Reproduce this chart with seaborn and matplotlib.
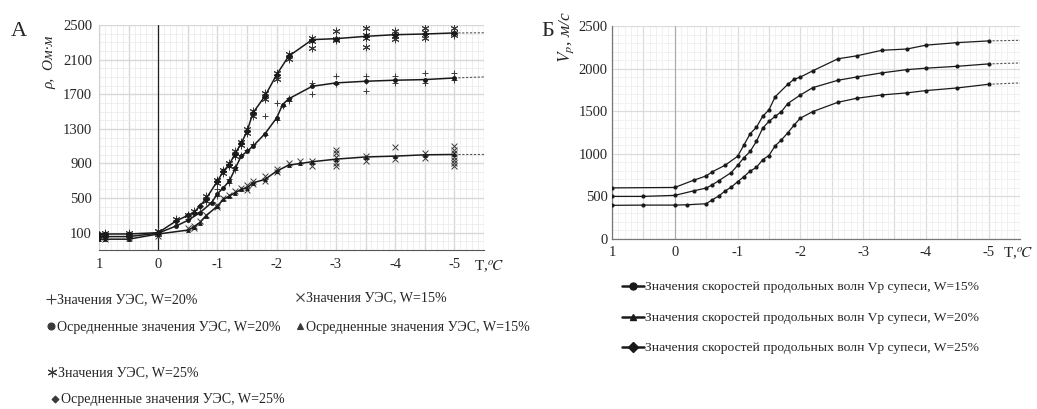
#%%библиотеки
import pandas as pd
import seaborn as sb
import matplotlib.pyplot as plt
from matplotlib.lines import Line2D
from matplotlib.ticker import MultipleLocator, FixedLocator, FuncFormatter

#%%данные: А - осредненные УЭС
t25=[1,0.9,0.5,0,-0.3,-0.5,-0.6,-0.7,-0.8,-1,-1.1,-1.2,-1.3,-1.4,-1.5,-1.6,-1.8,-2,-2.2,-2.6,-3,-3.5,-4,-4.5,-5]
r25=[85,85,85,100,235,300,330,408,485,696,812,888,1015,1131,1273,1485,1677,1927,2138,2331,2342,2369,2388,2396,2408]
t20=[1,0.9,0.5,0,-0.3,-0.5,-0.7,-0.9,-1,-1.1,-1.2,-1.3,-1.4,-1.5,-1.6,-1.8,-2,-2.1,-2.2,-2.6,-3,-3.5,-4,-4.5,-5]
r20=[55,55,55,95,177,242,330,446,550,620,696,842,985,1040,1100,1242,1427,1581,1646,1792,1831,1850,1862,1869,1888]
t15=[1,0.9,0.5,0,-0.5,-0.6,-0.7,-0.8,-1,-1.1,-1.2,-1.3,-1.4,-1.5,-1.6,-1.8,-2,-2.2,-2.4,-2.6,-3,-3.5,-4,-4.5,-5]
r15=[25,25,25,85,130,165,215,292,408,485,523,562,600,619,677,715,812,880,900,920,950,975,985,1000,1004]
t_tail=[-5,-5.5]
r25_tail=[2408,2410]
r20_tail=[1888,1900]
r15_tail=[1004,1004]

#%%данные: А - отдельные замеры УЭС
raw25_t=[0.9,0.9,0.5,0.5,0,0,-0.3,-0.5,-0.6,-0.8,-0.8,-1,-1,-1.1,-1.1,-1.2,-1.2,-1.3,-1.3,-1.4,-1.4,
         -1.5,-1.5,-1.6,-1.6,-1.8,-1.8,-2,-2,-2.2,-2.2,-2.6,-2.6,-2.6,-3,-3,-3,-3.5,-3.5,-3.5,-3.5,
         -4,-4,-4,-4.5,-4.5,-4.5,-5,-5,-5]
raw25_r=[95,75,100,70,115,80,255,310,345,520,470,710,680,830,790,910,870,1040,990,1150,1110,
         1300,1250,1510,1450,1720,1650,1950,1880,2170,2110,2350,2320,2235,2435,2340,2330,2465,2390,2350,2250,
         2425,2370,2340,2465,2420,2355,2465,2410,2390]
raw20_t=[0.9,0.5,0,0,-0.5,-0.7,-0.9,-1,-1,-1.2,-1.2,-1.3,-1.3,-1.4,-1.5,-1.6,-1.8,-1.8,-2,-2,-2.1,
         -2.2,-2.2,-2.6,-2.6,-3,-3,-3.5,-3.5,-3.5,-4,-4,-4.5,-4.5,-5,-5]
raw20_r=[70,80,110,90,260,340,460,600,520,720,680,860,820,1000,1050,1120,1446,1230,1600,1400,1560,
         1660,1620,1830,1707,1907,1820,1915,1850,1742,1915,1830,1946,1830,1946,1870]
raw15_t=[0.9,0.9,0.5,0.5,0,0,-0.5,-0.6,-0.6,-0.7,-0.8,-1,-1,-1.1,-1.2,-1.3,-1.4,-1.5,-1.5,-1.6,-1.6,
         -1.8,-1.8,-2,-2,-2.2,-2.4,-2.6,-2.6,-3,-3,-3,-3,-3,-3.5,-3.5,-4,-4,-4.5,-4.5,
         -5,-5,-5,-5,-5,-5,-5]
raw15_r=[50,30,60,40,110,60,150,180,160,230,300,420,400,500,540,580,620,650,590,700,660,
         760,700,840,800,910,930,926,869,1061,1020,980,900,870,984,926,1088,946,1025,965,
         1100,1060,1020,980,940,900,870]

#%%данные: Б - скорости продольных волн
tv25=[1,0,-0.3,-0.5,-0.6,-0.8,-1,-1.1,-1.2,-1.3,-1.4,-1.5,-1.6,-1.8,-1.9,-2,-2.2,-2.6,-2.9,-3.3,-3.7,-4,-4.5,-5]
v25=[600,605,690,740,790,865,970,1100,1235,1310,1440,1515,1670,1815,1875,1900,1975,2115,2150,2215,2230,2275,2305,2325]
tv20=[1,0.5,0,-0.3,-0.5,-0.6,-0.7,-0.9,-1,-1.1,-1.2,-1.3,-1.4,-1.5,-1.6,-1.7,-1.8,-2,-2.2,-2.6,-2.9,-3.3,-3.7,-4,-4.5,-5]
v20=[500,500,512,565,598,637,684,780,863,953,1027,1145,1300,1380,1440,1495,1590,1690,1777,1863,1902,1950,1988,2005,2027,2055]
tv15=[1,0.5,0,-0.2,-0.5,-0.6,-0.7,-0.8,-0.9,-1,-1.1,-1.2,-1.3,-1.4,-1.5,-1.6,-1.7,-1.8,-1.9,-2,-2.2,-2.6,-2.9,-3.3,-3.7,-4,-4.5,-5]
v15=[395,398,398,402,414,461,504,562,609,672,730,797,840,930,980,1094,1164,1246,1336,1418,1496,1605,1652,1691,1715,1742,1773,1816]
v25_tail=[2325,2332]
v20_tail=[2055,2066]
v15_tail=[1816,1832]

#%%оформление
sb.set_style("white")
plt.rcParams["font.family"]=["Liberation Serif","DejaVu Serif"]
plt.rcParams["mathtext.fontset"]="stix"
plt.rcParams["axes.unicode_minus"]=False

fig=plt.figure(figsize=(10.37,4.09),dpi=100)
ax1=fig.add_axes([99/1037,1-250/409,385/1037,225/409])
ax2=fig.add_axes([612/1037,1-239/409,408/1037,213/409])

ink="#1a1a1a"
pt="#3a3a3a"
int_fmt=FuncFormatter(lambda v,p: "%d"%round(v) if abs(v-round(v))<1e-6 else "")

#%%А - УЭС
sb.scatterplot(x=raw20_t,y=raw20_r,marker="+",color=pt,s=22,linewidth=0.7,ax=ax1,zorder=3)
sb.scatterplot(x=raw15_t,y=raw15_r,marker="x",color=pt,s=18,linewidth=0.7,ax=ax1,zorder=3)
sb.scatterplot(x=raw25_t,y=raw25_r,marker=(6,2,0),color=pt,s=24,linewidth=0.7,ax=ax1,zorder=3)
for t,r,m,tail in [(t25,r25,"D",r25_tail),(t20,r20,"o",r20_tail),(t15,r15,"^",r15_tail)]:
    sb.lineplot(x=t,y=r,sort=False,estimator=None,color=ink,lw=1.1,
                marker=m,markersize=3.5,markeredgewidth=0,ax=ax1,zorder=4)
    sb.lineplot(x=t_tail,y=tail,sort=False,estimator=None,color="#555",lw=0.8,
                linestyle=(0,(2,1.5)),ax=ax1)
ax1.axvline(0,color="#222",lw=0.9,zorder=2)
ax1.set_xlim(1,-5.5)
ax1.set_ylim(-100,2500)
ax1.xaxis.set_major_locator(MultipleLocator(0.5))
ax1.xaxis.set_minor_locator(MultipleLocator(0.1))
ax1.xaxis.set_major_formatter(int_fmt)
ax1.yaxis.set_major_locator(FixedLocator(range(100,2501,400)))
ax1.yaxis.set_minor_locator(MultipleLocator(100))
ax1.grid(True,which="major",color="#d8d8d8",lw=1.0)
ax1.grid(True,which="minor",color="#ececec",lw=0.6)
for s in ["top","right"]:
    ax1.spines[s].set_visible(False)
ax1.spines["left"].set_color("#cfcfcf")
ax1.spines["bottom"].set_color("#555")
ax1.tick_params(axis="x",length=0,pad=6,labelsize=10.5)
ax1.tick_params(axis="y",length=3,pad=2,color="#777",labelsize=10.5)

#%%Б - скорости
for t,v,tail in [(tv25,v25,v25_tail),(tv20,v20,v20_tail),(tv15,v15,v15_tail)]:
    sb.lineplot(x=t,y=v,sort=False,estimator=None,color=ink,lw=0.9,
                marker="o",markersize=3,markeredgewidth=0,ax=ax2,zorder=4)
    sb.lineplot(x=t_tail,y=tail,sort=False,estimator=None,color="#555",lw=0.8,
                linestyle=(0,(2,1.5)),ax=ax2)
ax2.axvline(0,color="#aaa",lw=0.8,zorder=2)
ax2.set_xlim(1,-5.5)
ax2.set_ylim(0,2500)
ax2.xaxis.set_major_locator(MultipleLocator(0.5))
ax2.xaxis.set_minor_locator(MultipleLocator(0.1))
ax2.xaxis.set_major_formatter(int_fmt)
ax2.yaxis.set_major_locator(MultipleLocator(500))
ax2.yaxis.set_minor_locator(MultipleLocator(100))
ax2.grid(True,which="major",color="#dcdcdc",lw=0.9)
ax2.grid(True,which="minor",color="#efefef",lw=0.6)
for s in ["top","right"]:
    ax2.spines[s].set_visible(False)
for s in ["left","bottom"]:
    ax2.spines[s].set_color("#777")
    ax2.spines[s].set_linewidth(0.9)
ax2.tick_params(axis="x",length=0,pad=5,labelsize=10.5)
ax2.tick_params(axis="y",length=0,pad=3,labelsize=10.5)

#%%подписи
fig.text(19/1037,1-31/409,"А",fontsize=16,ha="center",va="center")
fig.text(548/1037,1-31/409,"Б",fontsize=16,ha="center",va="center")
fig.text(50/1037,1-62/409,"ρ,  Ом·м",fontsize=11,style="italic",rotation=90,ha="center",va="center")
fig.text(566/1037,1-37/409,r"$V_p$, м/с",fontsize=12.5,style="italic",rotation=90,ha="center",va="center")
fig.text(474/1037,1-267/409,r"T,$^o\!C$",fontsize=11,ha="left",va="center")
fig.text(1003/1037,1-254/409,r"T,$^o\!C$",fontsize=11,ha="left",va="center")

#%%легенды
left_items=[("Значения УЭС, W=20%","+",47,300,7),
            ("Значения УЭС, W=15%","x",296,298,6),
            ("Осредненные значения УЭС, W=20%","o",47,327,5),
            ("Осредненные значения УЭС, W=15%","^",296,327,4),
            ("Значения УЭС, W=25%",(6,2,0),48,373,7),
            ("Осредненные значения УЭС, W=25%","D",51,400,3.5)]
for lab,m,x,y,ms in left_items:
    h=Line2D([],[],marker=m,ls="none",color=pt,markersize=ms,markeredgewidth=0.8)
    fig.legend(handles=[h],labels=[lab],loc="center left",bbox_to_anchor=(x/1037,1-y/409),
               frameon=False,handlelength=0.5,handletextpad=0.2,borderpad=0,
               borderaxespad=0,fontsize=10.1)
right_items=[("Значения скоростей продольных волн Vp супеси, W=15%","o",287),
             ("Значения скоростей продольных волн Vp супеси, W=20%","^",318),
             ("Значения скоростей продольных волн Vp супеси, W=25%","D",348)]
for lab,m,y in right_items:
    h=Line2D([],[],marker=m,color=ink,lw=1.8,markersize=5)
    fig.legend(handles=[h],labels=[lab],loc="center left",bbox_to_anchor=(622/1037,1-y/409),
               frameon=False,handlelength=1.6,handletextpad=0.1,borderpad=0,
               borderaxespad=0,fontsize=9.7)

plt.savefig("out.png",dpi=100)
